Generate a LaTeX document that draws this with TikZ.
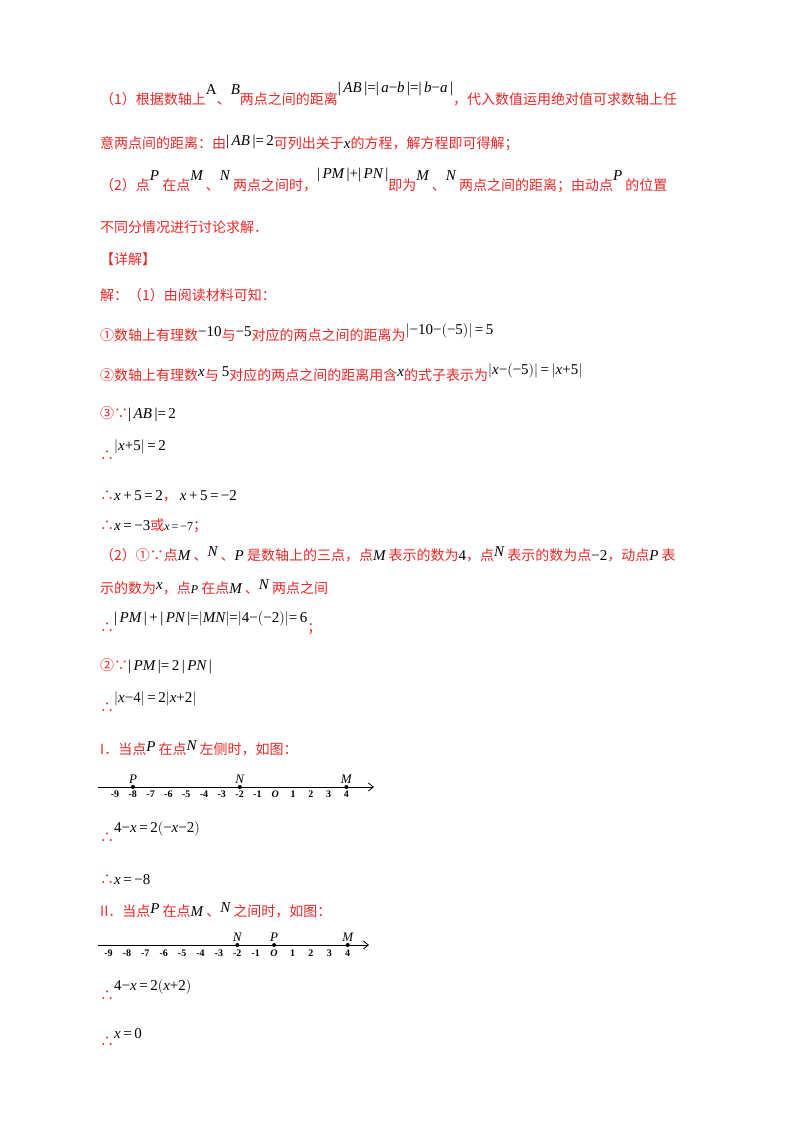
\documentclass[tikz,border=0pt]{standalone}
\usepackage{fontspec}
\setmainfont{Noto Sans CJK SC}
\newfontfamily\mf{Liberation Serif}
\usetikzlibrary{arrows.meta}
\definecolor{rd}{RGB}{235,40,40}
\newcommand{\m}[1]{{\mf\fontsize{15}{16}\selectfont\color{black}#1}}
\newcommand{\mi}[1]{{\mf\itshape #1}}
\newcommand{\up}[2][7pt]{\raisebox{#1}{#2}}
\def\oo{O}
\begin{document}
\begin{tikzpicture}[x=1pt,y=-1pt,
  ln/.style={anchor=base west,inner sep=0pt,text=rd,font=\fontsize{14}{16}\selectfont},
  tl/.style={anchor=north,inner sep=0pt,font=\mf\bfseries\fontsize{10}{10}\selectfont},
  pl/.style={anchor=south,inner sep=1pt,font=\mf\itshape\fontsize{13}{13}\selectfont},
  dotp/.style={circle,fill=black,inner sep=0pt,minimum size=4pt}]
\useasboundingbox[fill=white] (0,0) rectangle (800,1132);
\node[ln] (l1) at (100,104) {（1）根据数轴上\up[10pt]{\m{A}}、\up[10pt]{\m{\mi{B}}}两点之间的距离\up[12pt]{\m{|\,\mi{AB}\,|=|\,\mi{a}−\mi{b}\,|=|\,\mi{b}−\mi{a}\,|}}，代入数值运用绝对值可求数轴上任};
\node[ln] (l2) at (100,148) {意两点间的距离：由\up[3pt]{\m{|\,\mi{AB}\,|=\,2}}可列出关于\m{\mi{x}}的方程，解方程即可得解；};
\node[ln] (l3) at (100,190) {（2）点\up[10pt]{\m{\mi{P}}} 在点\up[10pt]{\m{\mi{M}}} 、\up[10pt]{\m{\mi{N}}} 两点之间时，\up[12pt]{\m{|\,\mi{PM}\,|+|\,\mi{PN}\,|}}即为\up[10pt]{\m{\mi{M}}} 、\up[10pt]{\m{\mi{N}}} 两点之间的距离；由动点\up[10pt]{\m{\mi{P}}} 的位置};
\node[ln] (l4) at (100,232) {不同分情况进行讨论求解．};
\node[ln] (l5) at (100,264) {【详解】};
\node[ln] (l6) at (100,300) {解：（1）由阅读材料可知：};
\node[ln] (l7) at (100,340) {①数轴上有理数\up[4pt]{\m{−10}}与\up[4pt]{\m{−5}}对应的两点之间的距离为\up[6pt]{\m{$\bigl|$−10−$\bigl($−5$\bigr)\bigr|$\,=\,5}}};
\node[ln] (l8) at (100,380) {②数轴上有理数\up[4pt]{\m{\mi{x}}}与 \up[4pt]{\m{5}}对应的两点之间的距离用含\up[4pt]{\m{\mi{x}}}的式子表示为\up[6pt]{\m{$\bigl|$\mi{x}−$\bigl($−5$\bigr)\bigr|$\,=\,$\bigl|$\mi{x}+5$\bigr|$}}};
\node[ln] (l9) at (100,418) {③∵\m{|\,\mi{AB}\,|=\,2}};
\node[ln] (l10) at (100,460) {∴\up[10pt]{\m{$\bigl|$\mi{x}+5$\bigr|$\,=\,2}}};
\node[ln] (l11) at (100,500) {∴\m{\mi{x}\,+\,5\,=\,2}， \m{\mi{x}\,+\,5\,=\,−2}};
\node[ln] (l12) at (100,530) {∴\m{\mi{x}\,=\,−3}或{\mf\fontsize{12}{12}\selectfont\color{black}\mi{x}\,=\,−7}；};
\node[ln] (l13) at (100,560) {（2）①∵点\m{\mi{M}} 、\up[4pt]{\m{\mi{N}}} 、\m{\mi{P}} 是数轴上的三点，点\m{\mi{M}} 表示的数为\m{4}，点\up[4pt]{\m{\mi{N}}} 表示的数为点\m{−2}，动点\m{\mi{P}} 表};
\node[ln] (l14) at (100,593) {示的数为\up[4pt]{\m{\mi{x}}}，点{\mf\fontsize{12}{12}\selectfont\color{black}\mi{P}} 在点\m{\mi{M}} 、\up[4pt]{\m{\mi{N}}} 两点之间};
\node[ln] (l15) at (100,632) {∴\up[10pt]{\m{|\,\mi{PM}\,|\,+\,|\,\mi{PN}\,|=$\bigl|$\mi{MN}$\bigr|$=$\bigl|$4−$\bigl($−2$\bigr)\bigr|$=\,6}}；};
\node[ln] (l16) at (100,670) {②∵\m{|\,\mi{PM}\,|=\,2\,|\,\mi{PN}\,|}};
\node[ln] (l17) at (100,712) {∴\up[10pt]{\m{$\bigl|$\mi{x}−4$\bigr|$\,=\,2$\bigl|$\mi{x}+2$\bigr|$}}};
\node[ln] (l18) at (100,754) {I．当点\up[3pt]{\m{\mi{P}}} 在点\up[4pt]{\m{\mi{N}}} 左侧时，如图：};
% number line 1
\coordinate (a1s) at (98,787); \coordinate (a1e) at (374,787);
\draw[thick,-{Straight Barb[length=5pt,width=8pt]}] (a1s) -- (a1e);
\foreach \v [count=\i from 0] in {-9,-8,-7,-6,-5,-4,-3,-2,-1,O,1,2,3,4}{
  \node[tl] (t1\i) at (115+17.8*\i,791) {\ifx\v\oo\textit{O}\else\v\fi};}
\node[dotp] (p1) at (133,787) {}; \node[pl] at (p1.north) {P};
\node[dotp] (n1) at (239.8,787) {}; \node[pl] at (n1.north) {N};
\node[dotp] (m1) at (346.4,787) {}; \node[pl] at (m1.north) {M};
\node[ln] (l19) at (100,842) {∴\up[10pt]{\m{4−\mi{x}\,=\,2$\bigl($−\mi{x}−2$\bigr)$}}};
\node[ln] (l20) at (100,884) {∴\m{\mi{x}\,=\,−8}};
\node[ln] (l21) at (100,916) {II．当点\up[3pt]{\m{\mi{P}}} 在点\m{\mi{M}} 、\up[4pt]{\m{\mi{N}}} 之间时，如图：};
% number line 2
\coordinate (a2s) at (98,945); \coordinate (a2e) at (369,945);
\draw[thick,-{Straight Barb[length=5pt,width=8pt]}] (a2s) -- (a2e);
\foreach \v [count=\i from 0] in {-9,-8,-7,-6,-5,-4,-3,-2,-1,O,1,2,3,4}{
  \node[tl] (t2\i) at (108.5+18.4*\i,950) {\ifx\v\oo\textit{O}\else\v\fi};}
\node[dotp] (n2) at (237.3,945) {}; \node[pl] at (n2.north) {N};
\node[dotp] (p2) at (274.1,945) {}; \node[pl] at (p2.north) {P};
\node[dotp] (m2) at (347.7,945) {}; \node[pl] at (m2.north) {M};
\node[ln] (l22) at (100,1000) {∴\up[10pt]{\m{4−\mi{x}\,=\,2$\bigl($\mi{x}+2$\bigr)$}}};
\node[ln] (l23) at (100,1046) {∴\up[8pt]{\m{\mi{x}\,=\,0}}};
\end{tikzpicture}
\end{document}
